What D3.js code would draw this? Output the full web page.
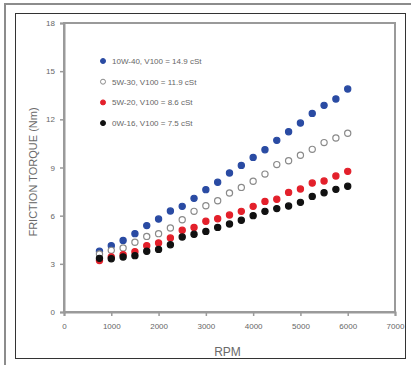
<!DOCTYPE html>
<html>
<head>
<meta charset="utf-8">
<script src="https://cdn.jsdelivr.net/npm/d3@7"></script>
<style>
  body { margin: 0; background: #fff; }
  svg text { font-family: "Liberation Sans", Arial, sans-serif; }
</style>
</head>
<body>
<div id="chart"></div>
<script>
// RPM steps shared by every series
const rpm = [750, 1000, 1250, 1500, 1750, 2000, 2250, 2500, 2750, 3000, 3250,
  3500, 3750, 4000, 4250, 4500, 4750, 5000, 5250, 5500, 5750, 6000];

const torque10W40 = [3.78, 4.13, 4.46, 4.88, 5.38, 5.79, 6.29, 6.58, 7.08, 7.62, 8.08,
  8.66, 9.13, 9.63, 10.11, 10.69, 11.23, 11.77, 12.37, 12.87, 13.27, 13.89];
const torque5W30 = [3.61, 3.84, 3.99, 4.34, 4.71, 4.88, 5.23, 5.75, 6.27, 6.62, 6.93,
  7.41, 7.76, 8.14, 8.59, 9.18, 9.42, 9.76, 10.13, 10.55, 10.84, 11.13];
const torque5W20 = [3.20, 3.43, 3.57, 3.76, 4.13, 4.30, 4.61, 5.09, 5.27, 5.65, 5.81,
  6.04, 6.27, 6.58, 6.89, 7.02, 7.45, 7.66, 8.03, 8.16, 8.47, 8.76];
const torque0W16 = [3.34, 3.32, 3.43, 3.51, 3.78, 3.90, 4.19, 4.67, 4.84, 5.02, 5.27,
  5.48, 5.71, 6.00, 6.27, 6.44, 6.60, 6.83, 7.20, 7.43, 7.64, 7.83];

const seriesNames = ['10W-40, V100 = 14.9 cSt', '5W-30, V100 = 11.9 cSt',
  '5W-20, V100 = 8.6 cSt', '0W-16, V100 = 7.5 cSt'];
const xTicks = [0, 1000, 2000, 3000, 4000, 5000, 6000, 7000];
const yTicks = [0, 3, 6, 9, 12, 15, 18];

const W = 411, H = 365;
const margin = { top: 23, right: 16, bottom: 53, left: 64 };

const series = [
  { name: seriesNames[0], values: torque10W40, fill: '#2a4ba3', stroke: '#2a4ba3' },
  { name: seriesNames[1], values: torque5W30, fill: '#fff', stroke: '#8a8a8a' },
  { name: seriesNames[2], values: torque5W20, fill: '#e3202b', stroke: '#e3202b' },
  { name: seriesNames[3], values: torque0W16, fill: '#111', stroke: '#111' }
];

const svg = d3.select('#chart').append('svg')
  .attr('width', W)
  .attr('height', H);

// outer frames of the figure
svg.append('path')
  .attr('d', 'M5,' + H + 'V4H' + W)
  .attr('fill', 'none')
  .attr('stroke', '#8c8c8c')
  .attr('stroke-width', 2);
svg.append('rect')
  .attr('x', 15.5).attr('y', 13.5)
  .attr('width', 390).attr('height', 345)
  .attr('fill', 'none')
  .attr('stroke', '#333')
  .attr('stroke-width', 1);

const x = d3.scaleLinear().domain([0, 7000]).range([margin.left, W - margin.right]);
const y = d3.scaleLinear().domain([0, 18]).range([H - margin.bottom, margin.top]);

// plot box
svg.append('rect')
  .attr('x', x(0)).attr('y', y(18))
  .attr('width', x(7000) - x(0)).attr('height', y(0) - y(18))
  .attr('fill', 'none')
  .attr('stroke', '#9a9a9a')
  .attr('stroke-width', 2);

const gX = svg.append('g')
  .attr('transform', 'translate(0,' + y(0) + ')')
  .call(d3.axisBottom(x).tickValues(xTicks).tickSize(4).tickFormat(d3.format('d')));
const gY = svg.append('g')
  .attr('transform', 'translate(' + x(0) + ',0)')
  .call(d3.axisLeft(y).tickValues(yTicks).tickSize(4));

[gX, gY].forEach(g => {
  g.select('.domain').attr('stroke', '#9a9a9a').attr('stroke-width', 2);
  g.selectAll('.tick line').attr('stroke', '#9a9a9a').attr('stroke-width', 1.5);
  g.selectAll('.tick text').attr('fill', '#666').style('font-size', '8px');
});
gX.selectAll('.tick text').attr('dy', '1.2em');
gY.selectAll('.tick text').attr('dx', '-2');

// axis titles
svg.append('text')
  .attr('x', (x(0) + x(7000)) / 2 - 2)
  .attr('y', 356)
  .attr('text-anchor', 'middle')
  .attr('fill', '#6a6a6a')
  .style('font-size', '12px')
  .text('RPM');
svg.append('text')
  .attr('transform', 'translate(37,' + 172 + ') rotate(-90)')
  .attr('text-anchor', 'middle')
  .attr('fill', '#6a6a6a')
  .style('font-size', '11px')
  .text('FRICTION TORQUE (Nm)');

// points
series.forEach(s => {
  svg.append('g')
    .selectAll('circle')
    .data(s.values.map((v, i) => [rpm[i], v]))
    .enter()
    .append('circle')
    .attr('cx', d => x(d[0]))
    .attr('cy', d => y(d[1]))
    .attr('r', 3.1)
    .attr('fill', s.fill)
    .attr('stroke', s.stroke)
    .attr('stroke-width', 1.2);
});

// legend
const legend = svg.append('g').attr('transform', 'translate(103,61)');
series.forEach((s, i) => {
  const row = legend.append('g').attr('transform', 'translate(0,' + (i * 20.7) + ')');
  row.append('circle')
    .attr('r', 2.5)
    .attr('fill', s.fill)
    .attr('stroke', s.stroke)
    .attr('stroke-width', 1);
  row.append('text')
    .attr('x', 9)
    .attr('dy', '0.35em')
    .attr('fill', '#666')
    .style('font-size', '8px')
    .text(s.name);
});
</script>
</body>
</html>
